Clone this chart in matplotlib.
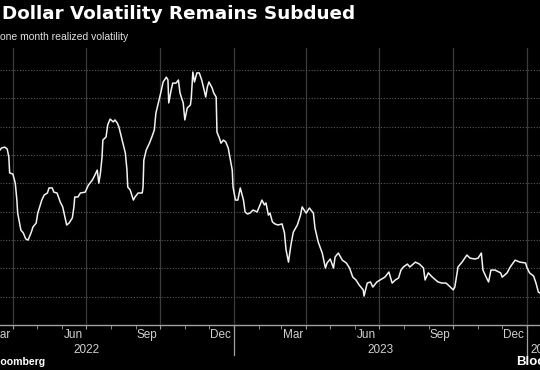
import matplotlib
matplotlib.use("Agg")
import matplotlib.pyplot as plt
import matplotlib.dates as mdates
import matplotlib.transforms as mtransforms
import pandas as pd

# one month realized volatility
dates = [
    "2022-03-16", "2022-03-18", "2022-03-22", "2022-03-25", "2022-03-27", "2022-03-28",
    "2022-04-01", "2022-04-04", "2022-04-06", "2022-04-07", "2022-04-11", "2022-04-14",
    "2022-04-17", "2022-04-20", "2022-04-24", "2022-04-26", "2022-04-30", "2022-05-02",
    "2022-05-07", "2022-05-10", "2022-05-14", "2022-05-16", "2022-05-20", "2022-05-22",
    "2022-05-26", "2022-05-30", "2022-06-02", "2022-06-05", "2022-06-07", "2022-06-10",
    "2022-06-14", "2022-06-16", "2022-06-17", "2022-06-21", "2022-06-24", "2022-06-30",
    "2022-07-04", "2022-07-09", "2022-07-12", "2022-07-15", "2022-07-17", "2022-07-19",
    "2022-07-21", "2022-07-22", "2022-07-26", "2022-07-28", "2022-07-31", "2022-08-04",
    "2022-08-06", "2022-08-09", "2022-08-11", "2022-08-15", "2022-08-19", "2022-08-21",
    "2022-08-22", "2022-08-25", "2022-08-29", "2022-08-31", "2022-09-04", "2022-09-09",
    "2022-09-10", "2022-09-11", "2022-09-14", "2022-09-18", "2022-09-21", "2022-09-24",
    "2022-09-26", "2022-09-29", "2022-10-02", "2022-10-05", "2022-10-09", "2022-10-11",
    "2022-10-12", "2022-10-15", "2022-10-17", "2022-10-21", "2022-10-24", "2022-10-26",
    "2022-10-30", "2022-11-01", "2022-11-04", "2022-11-08", "2022-11-09", "2022-11-11",
    "2022-11-13", "2022-11-16", "2022-11-19", "2022-11-22", "2022-11-25", "2022-11-27",
    "2022-11-29", "2022-12-01", "2022-12-05", "2022-12-07", "2022-12-10", "2022-12-11",
    "2022-12-14", "2022-12-16", "2022-12-19", "2022-12-22", "2022-12-25", "2022-12-27",
    "2022-12-30", "2022-12-31", "2023-01-03", "2023-01-06", "2023-01-09", "2023-01-13",
    "2023-01-15", "2023-01-18", "2023-01-21", "2023-01-25", "2023-01-30", "2023-02-01",
    "2023-02-05", "2023-02-08", "2023-02-10", "2023-02-13", "2023-02-15", "2023-02-18",
    "2023-02-21", "2023-02-25", "2023-03-02", "2023-03-05", "2023-03-07", "2023-03-10",
    "2023-03-13", "2023-03-16", "2023-03-21", "2023-03-25", "2023-03-27", "2023-04-01",
    "2023-04-05", "2023-04-10", "2023-04-12", "2023-04-16", "2023-04-21", "2023-04-25",
    "2023-04-27", "2023-05-01", "2023-05-05", "2023-05-07", "2023-05-11", "2023-05-16",
    "2023-05-21", "2023-05-25", "2023-05-29", "2023-06-02", "2023-06-06", "2023-06-11",
    "2023-06-12", "2023-06-16", "2023-06-20", "2023-06-23", "2023-06-28", "2023-07-02",
    "2023-07-08", "2023-07-13", "2023-07-17", "2023-07-21", "2023-07-25", "2023-07-28",
    "2023-07-31", "2023-08-05", "2023-08-08", "2023-08-15", "2023-08-20", "2023-08-25",
    "2023-08-27", "2023-08-31", "2023-09-05", "2023-09-09", "2023-09-12", "2023-09-17",
    "2023-09-22", "2023-09-26", "2023-10-01", "2023-10-03", "2023-10-07", "2023-10-12",
    "2023-10-18", "2023-10-22", "2023-10-28", "2023-11-01", "2023-11-05", "2023-11-07",
    "2023-11-11", "2023-11-14", "2023-11-17", "2023-11-22", "2023-11-29", "2023-12-01",
    "2023-12-07", "2023-12-11", "2023-12-17", "2023-12-23", "2023-12-30", "2024-01-01",
    "2024-01-04", "2024-01-09", "2024-01-12", "2024-01-15", "2024-01-17",
]
vol = [
    9.18, 9.25, 9.28, 9.21, 8.93, 8.37,
    8.33, 8.01, 7.41, 6.95, 6.35, 6.25,
    6.04, 6.00, 6.28, 6.46, 6.60, 6.95,
    7.41, 7.59, 7.66, 7.84, 7.84, 7.69,
    7.66, 7.34, 7.17, 6.78, 6.53, 6.60,
    6.78, 7.17, 7.52, 7.52, 7.66, 7.69,
    7.94, 8.12, 8.29, 8.47, 8.01, 8.37,
    8.93, 9.53, 9.64, 10.06, 10.27, 10.17,
    10.24, 10.13, 9.99, 9.53, 9.07, 8.47,
    7.87, 7.77, 7.41, 7.52, 7.66, 7.66,
    7.87, 8.82, 9.18, 9.42, 9.64, 9.88,
    10.48, 10.84, 11.19, 11.58, 11.75, 11.65,
    10.84, 11.30, 11.54, 11.54, 11.65, 11.19,
    10.84, 10.24, 10.66, 10.77, 11.01, 11.93,
    11.58, 11.90, 11.90, 11.65, 11.30, 11.05,
    11.40, 11.58, 11.37, 11.19, 11.05, 9.81,
    9.60, 9.42, 9.53, 9.46, 9.25, 8.93,
    8.47, 7.87, 7.41, 7.41, 7.84, 7.41,
    6.99, 6.92, 6.95, 7.06, 6.99, 7.13,
    7.41, 7.24, 7.31, 6.88, 6.95, 6.64,
    6.57, 6.53, 6.57, 6.25, 5.65, 5.22,
    5.82, 6.28, 6.53, 6.88, 7.17, 6.95,
    7.13, 6.95, 6.42, 5.93, 5.54, 5.01,
    5.19, 5.33, 5.01, 5.40, 5.54, 5.29,
    5.19, 5.01, 4.69, 4.59, 4.41, 4.24,
    4.02, 4.48, 4.52, 4.34, 4.52, 4.59,
    4.69, 4.87, 4.48, 4.59, 4.66, 4.94,
    5.05, 5.15, 5.05, 5.22, 5.15, 5.01,
    4.59, 4.84, 4.69, 4.59, 4.52, 4.48,
    4.48, 4.38, 4.24, 4.34, 5.05, 5.22,
    5.47, 5.36, 5.33, 5.36, 5.54, 4.94,
    4.69, 4.52, 4.94, 4.94, 4.84, 4.69,
    4.84, 5.05, 5.29, 5.22, 5.19, 5.01,
    4.84, 4.73, 4.48, 4.16, 4.13,
]

quarter_ticks = ["2022-04-01", "2022-07-01", "2022-10-01", "2023-01-01",
                 "2023-04-01", "2023-07-01", "2023-10-01", "2024-01-01"]
quarter_labels = ["Mar", "Jun", "Sep", "Dec", "Mar", "Jun", "Sep", "Dec"]
year_labels = ["2022", "2023", "2024"]
year_pos = ["2022-07-02", "2023-07-02", "2024-01-05"]
year_breaks = ["2023-01-01", "2024-01-01"]

W, H = 540, 370
fig = plt.figure(figsize=(W / 100, H / 100), dpi=100, facecolor="black")
ax = fig.add_axes([0, 1 - 325 / H, 1, 277 / H], facecolor="black")

x = pd.to_datetime(dates)
ax.plot(x, vol, color="#f2f2f2", lw=1.1, solid_joinstyle="round")

ax.set_xlim(pd.Timestamp("2022-03-16"), pd.Timestamp("2024-01-17"))
ax.set_ylim(3, 12.78)

for s in ax.spines.values():
    s.set_visible(False)
ax.axhline(3, color="#a0a0a0", lw=1.0, clip_on=False, zorder=1)

ax.set_yticks(range(4, 13))
ax.yaxis.set_tick_params(length=0, labelleft=False)
ax.grid(axis="y", color="#5a5a5a", lw=0.8, ls=(0, (1, 1.5)))

qt = pd.to_datetime(quarter_ticks)
ax.set_xticks(qt)
ax.xaxis.set_minor_locator(mdates.MonthLocator())
ax.tick_params(axis="x", which="both", length=3, color="#a0a0a0", labelbottom=False)
ax.grid(axis="x", which="major", color="#3c3c3c", lw=0.9)

# month labels sit just left of the quarter tick
lab_tr = mtransforms.offset_copy(ax.get_xaxis_transform(), fig=fig, x=-3, y=-13, units="dots")
for d, lab in zip(qt, quarter_labels):
    ax.text(d, 0, lab, transform=lab_tr, ha="right", va="baseline",
            color="#d0d0d0", fontsize=8.5, family="Liberation Sans")

yr_tr = mtransforms.offset_copy(ax.get_xaxis_transform(), fig=fig, x=0, y=-28, units="dots")
for d, lab in zip(pd.to_datetime(year_pos), year_labels):
    ha = "left" if lab == "2024" else "center"
    ax.text(d, 0, lab, transform=yr_tr, ha=ha, va="baseline",
            color="#d0d0d0", fontsize=8.5, family="Liberation Sans")

for d in pd.to_datetime(year_breaks):
    ax.plot([d, d], [0, -30 / 277], transform=ax.get_xaxis_transform(),
            color="#a0a0a0", lw=0.9, clip_on=False)

fig.text(2 / W, 1 - 19 / H, "Dollar Volatility Remains Subdued", color="white",
         fontsize=13.2, fontweight="bold", family="DejaVu Sans", va="baseline")
fig.text(0 / W, 1 - 40 / H, "one month realized volatility", color="#e0e0e0",
         fontsize=7.5, family=["Liberation Sans Narrow", "Liberation Sans"], va="baseline")
fig.text(45 / W, 1 - 365 / H, "Source: Bloomberg", color="white", fontsize=7.6,
         fontweight="bold", family="Liberation Sans", ha="right", va="baseline")
fig.text(516 / W, 1 - 365 / H, "Bloomberg", color="white", fontsize=9.5,
         fontweight="bold", family="Liberation Sans", ha="left", va="baseline")

fig.savefig("out.png", dpi=100, facecolor="black")
